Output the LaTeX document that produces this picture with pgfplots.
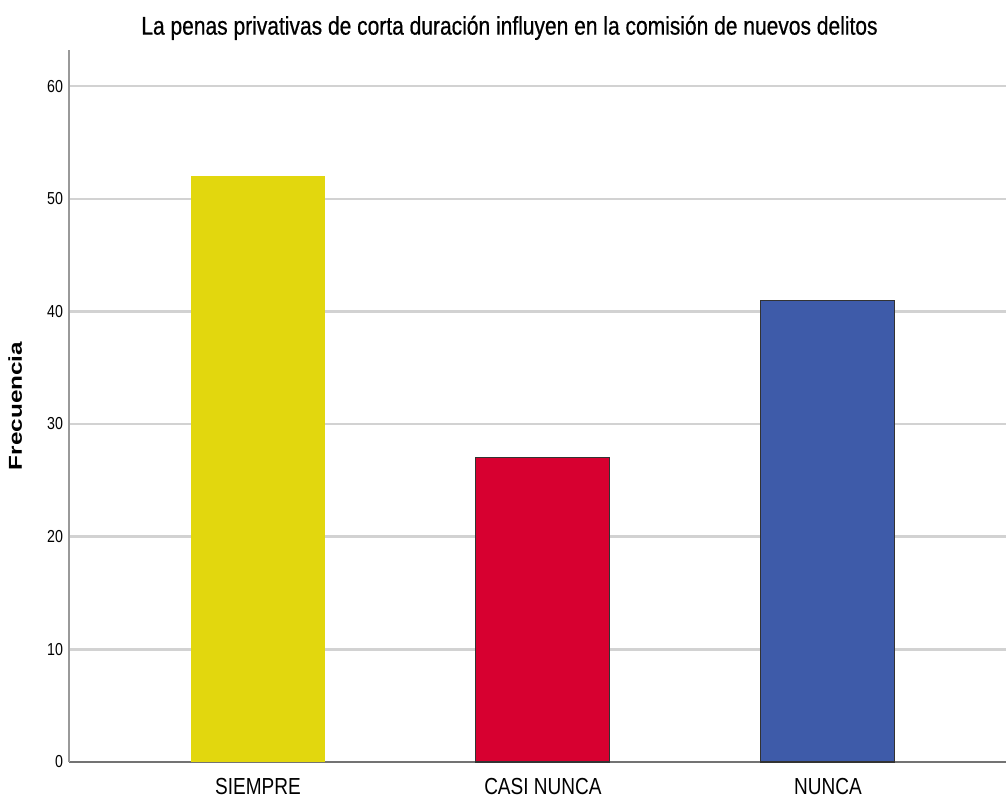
\documentclass[border=0pt]{standalone}
\usepackage{pgfplots}
\pgfplotsset{compat=1.18}
\usepackage{fontspec}
\setmainfont{Liberation Sans}
\newfontfamily\narrow[FakeStretch=0.82]{Liberation Sans}
\newfontfamily\narrowbold[FakeStretch=0.82,FakeBold=0.6]{Liberation Sans}
\newfontfamily\widebold[FakeStretch=1.3]{Liberation Sans Bold}
\definecolor{cyel}{HTML}{E2D70E}
\definecolor{cred}{HTML}{D70030}
\definecolor{cblue}{HTML}{3E5BA9}
\definecolor{cgrid}{HTML}{D2D2D2}
\begin{document}
\begin{tikzpicture}
\path[use as bounding box] (-51.75pt,-28.5pt) rectangle (702.75pt,571.5pt);
\begin{axis}[
  at={(0,0)}, anchor=south west,
  scale only axis, width=702.75pt, height=534pt,
  xmin=-0.663, xmax=2.625, ymin=0, ymax=63.2,
  axis lines*=left,
  axis x line*=bottom,
  x axis line style={draw=black!55, line width=1.6pt, -},
  y axis line style={draw=black!40, line width=0.9pt, -},
  xtick={0,1,2}, xticklabels={SIEMPRE,CASI NUNCA,NUNCA},
  ytick={0,10,...,60},
  major tick length=0pt,
  ymajorgrids, grid style={draw=cgrid, line width=1.8pt},
  /pgf/number format/assume math mode=true,
  yticklabel style={font=\narrow\fontsize{13}{14}\selectfont, xshift=-1pt},
  xticklabel style={font=\narrow\fontsize{17.4}{18}\selectfont, yshift=-9pt},
  ylabel={Frecuencia},
  ylabel style={font=\widebold\fontsize{14}{16}\selectfont, yshift=12pt},
  title={La penas privativas de corta duración influyen en la comisión de nuevos delitos},
  title style={font=\narrowbold\fontsize{19.2}{20}\selectfont, yshift=-2pt, xshift=-21pt},
  ybar, bar width=0.47,
  clip=false,
]
\addplot[fill=cyel, draw=none, bar shift=0pt] coordinates {(0,52)};
\addplot[fill=cred, draw=black!80, line width=0.8pt, bar shift=0pt] coordinates {(1,27)};
\addplot[fill=cblue, draw=black!80, line width=0.8pt, bar shift=0pt] coordinates {(2,41)};
\end{axis}
\end{tikzpicture}
\end{document}
